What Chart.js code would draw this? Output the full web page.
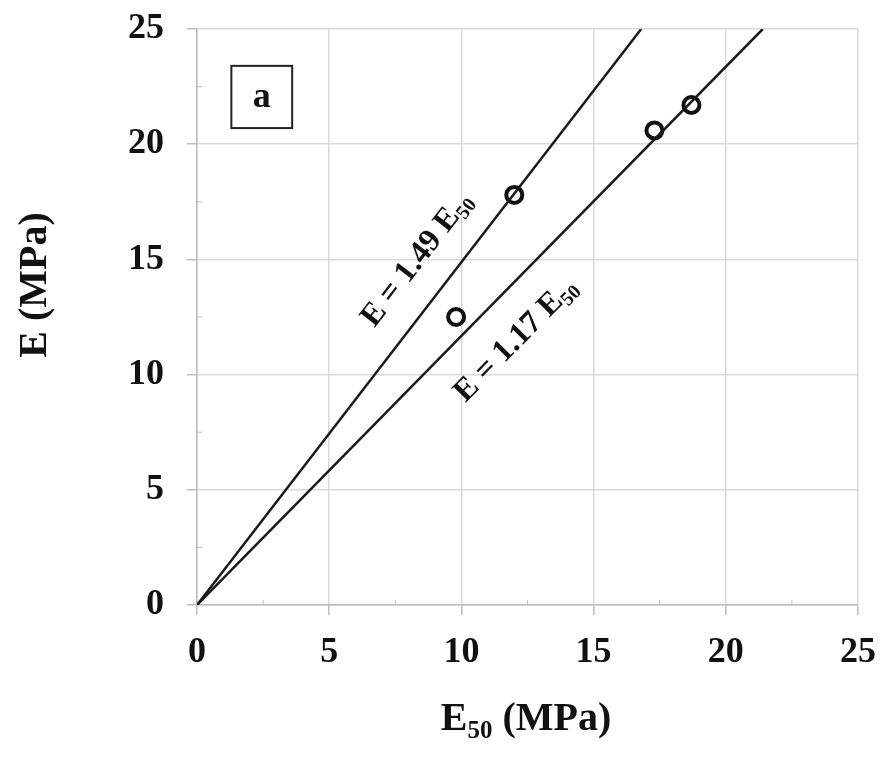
<!DOCTYPE html>
<html>
<head>
<meta charset="utf-8">
<script src="https://cdn.jsdelivr.net/npm/chart.js@4.4.1/dist/chart.umd.min.js"></script>
<style>
  html, body { margin: 0; padding: 0; background: #fff; }
  #wrap { width: 886px; height: 758px; }
</style>
</head>
<body>
<div id="wrap"><canvas id="chart" width="886" height="758"></canvas></div>
<script>
// measured points (E50, E)
const e50 = [9.8, 12.0, 17.3, 18.7];
const eVal = [12.5, 17.8, 20.6, 21.7];

// fitted lines, from the origin to where they leave the plot
const line149X = [0, 16.8];
const line149Y = [0, 25];
const line117X = [0, 21.4];
const line117Y = [0, 25];

const tickVals = [0, 5, 10, 15, 20, 25];

const serif = '"Liberation Serif", "Times New Roman", serif';

function toXY(xs, ys) {
  return xs.map((x, i) => ({ x: x, y: ys[i] }));
}

// draw "main" + subscript text, centred at x,y and rotated
function subText(ctx, main, sub, x, y, rot, size) {
  ctx.save();
  ctx.translate(x, y);
  ctx.rotate(rot);
  ctx.fillStyle = '#111';
  ctx.textBaseline = 'middle';
  ctx.textAlign = 'left';
  const subSize = Math.round(size * 0.62);
  ctx.font = 'bold ' + size + 'px ' + serif;
  const w1 = ctx.measureText(main[0]).width;
  const w3 = main[1] ? ctx.measureText(main[1]).width : 0;
  ctx.font = 'bold ' + subSize + 'px ' + serif;
  const w2 = ctx.measureText(sub).width;
  let cx = -(w1 + w2 + w3) / 2;
  ctx.font = 'bold ' + size + 'px ' + serif;
  ctx.fillText(main[0], cx, 0);
  cx += w1;
  ctx.font = 'bold ' + subSize + 'px ' + serif;
  ctx.fillText(sub, cx, size * 0.28);
  cx += w2;
  if (main[1]) {
    ctx.font = 'bold ' + size + 'px ' + serif;
    ctx.fillText(main[1], cx, 0);
  }
  ctx.restore();
}

const extras = {
  id: 'extras',
  afterDraw(chart) {
    const ctx = chart.ctx;
    const xs = chart.scales.x, ys = chart.scales.y;
    const area = chart.chartArea;

    // minor ticks at the half steps, inside the plot
    ctx.save();
    ctx.strokeStyle = '#bdbdbd';
    ctx.lineWidth = 1;
    [2.5, 7.5, 12.5, 17.5, 22.5].forEach(v => {
      const px = xs.getPixelForValue(v);
      const py = ys.getPixelForValue(v);
      ctx.beginPath();
      ctx.moveTo(px, area.bottom);
      ctx.lineTo(px, area.bottom - 5);
      ctx.moveTo(area.left, py);
      ctx.lineTo(area.left + 5, py);
      ctx.stroke();
    });
    ctx.restore();

    // line labels, rotated along each line
    const ang = (lx, ly) => Math.atan2(
      ys.getPixelForValue(ly[1]) - ys.getPixelForValue(ly[0]),
      xs.getPixelForValue(lx[1]) - xs.getPixelForValue(lx[0]));
    subText(ctx, ['E = 1.49 E', ''], '50',
      xs.getPixelForValue(8.32), ys.getPixelForValue(15.0), ang(line149X, line149Y), 32);
    subText(ctx, ['E = 1.17 E', ''], '50',
      xs.getPixelForValue(12.06), ys.getPixelForValue(11.5), ang(line117X, line117Y), 32);

    // panel tag "a"
    const bx0 = xs.getPixelForValue(1.3), bx1 = xs.getPixelForValue(3.6);
    const by0 = ys.getPixelForValue(23.4), by1 = ys.getPixelForValue(20.7);
    ctx.save();
    ctx.fillStyle = '#fff';
    ctx.fillRect(bx0, by0, bx1 - bx0, by1 - by0);
    ctx.strokeStyle = '#222';
    ctx.lineWidth = 2;
    ctx.strokeRect(bx0, by0, bx1 - bx0, by1 - by0);
    ctx.fillStyle = '#111';
    ctx.font = 'bold 36px ' + serif;
    ctx.textAlign = 'center';
    ctx.textBaseline = 'middle';
    ctx.fillText('a', (bx0 + bx1) / 2, (by0 + by1) / 2 + 1);
    ctx.restore();

    // axis titles
    subText(ctx, ['E', ' (MPa)'], '50', 526, 720, 0, 40);
    ctx.save();
    ctx.translate(36, 285);
    ctx.rotate(-Math.PI / 2);
    ctx.fillStyle = '#111';
    ctx.font = 'bold 40px ' + serif;
    ctx.textAlign = 'center';
    ctx.textBaseline = 'middle';
    ctx.fillText('E (MPa)', 0, 0);
    ctx.restore();
  }
};

const gridOpts = {
  color: '#d9d9d9',
  lineWidth: 1.5,
  tickLength: 10,
  tickColor: '#bdbdbd',
  drawTicks: true
};

new Chart(document.getElementById('chart'), {
  type: 'scatter',
  data: {
    datasets: [
      {
        label: 'E = 1.49 E50',
        data: toXY(line149X, line149Y),
        showLine: true,
        borderColor: '#1a1a1a',
        borderWidth: 2.5,
        pointRadius: 0,
        fill: false,
      },
      {
        label: 'E = 1.17 E50',
        data: toXY(line117X, line117Y),
        showLine: true,
        borderColor: '#1a1a1a',
        borderWidth: 2.5,
        pointRadius: 0,
        fill: false,
      },
      {
        label: 'data',
        data: toXY(e50, eVal),
        showLine: false,
        pointStyle: 'circle',
        pointRadius: 8,
        borderWidth: 4,
        borderColor: '#111',
        backgroundColor: 'rgba(255,255,255,0)',
      },
    ],
  },
  options: {
    responsive: false,
    animation: false,
    layout: { padding: { top: 29, right: 28, left: 0, bottom: 0 } },
    plugins: {
      legend: { display: false },
      tooltip: { enabled: false },
    },
    scales: {
      x: {
        type: 'linear',
        min: 0,
        max: 25,
        afterBuildTicks: s => { s.ticks = tickVals.map(v => ({ value: v })); },
        afterFit: s => { s.height = 153; s.paddingLeft = 0; s.paddingRight = 0; },
        grid: gridOpts,
        border: { color: '#bdbdbd', width: 1.5 },
        ticks: {
          padding: 16,
          color: '#111',
          font: { family: serif, size: 36, weight: 'bold' },
        },
      },
      y: {
        type: 'linear',
        min: 0,
        max: 25,
        afterBuildTicks: s => { s.ticks = tickVals.map(v => ({ value: v })); },
        afterFit: s => { s.width = 197; s.paddingTop = 0; s.paddingBottom = 0; },
        grid: gridOpts,
        border: { color: '#bdbdbd', width: 1.5 },
        ticks: {
          padding: 23,
          color: '#111',
          font: { family: serif, size: 36, weight: 'bold' },
        },
      },
    },
  },
  plugins: [extras],
});
</script>
</body>
</html>
